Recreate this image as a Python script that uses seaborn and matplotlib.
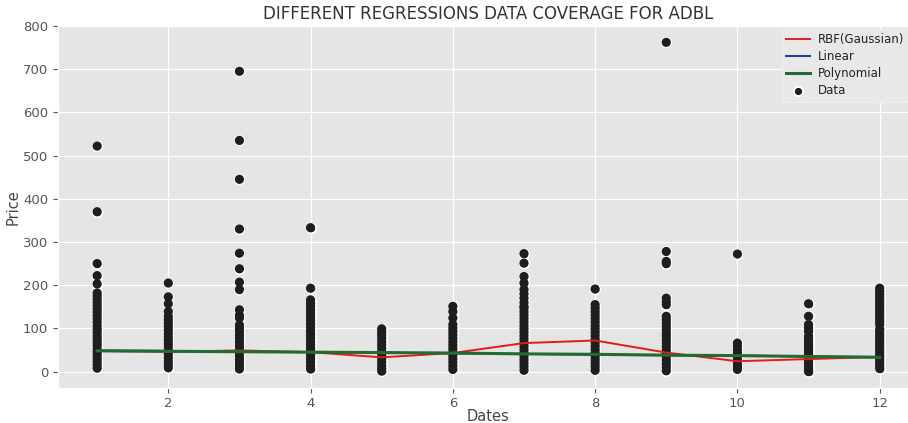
import matplotlib
matplotlib.use("Agg")
import matplotlib.pyplot as plt
import seaborn as sns
import pandas as pd

# ---- data ----
dates = [1, 2, 3, 4, 5, 6, 7, 8, 9, 10, 11, 12]
prices_d1 = [522, 370, 250, 222, 203, 182, 175, 168, 160, 152, 145, 138, 130, 122, 114, 105, 98, 90, 82, 75, 68, 60, 52, 45, 38, 30, 22, 15, 8]
prices_d2 = [205, 173, 157, 139, 128, 120, 112, 104, 96, 88, 80, 72, 64, 56, 48, 40, 32, 24, 16, 9]
prices_d3 = [695, 535, 445, 330, 274, 238, 207, 190, 143, 130, 124, 108, 100, 92, 84, 76, 68, 60, 52, 44, 36, 28, 20, 12, 6]
prices_d4 = [333, 193, 166, 158, 150, 142, 134, 126, 118, 110, 102, 94, 86, 78, 70, 62, 54, 46, 38, 30, 22, 14, 6]
prices_d5 = [99, 92, 85, 78, 70, 62, 54, 46, 38, 30, 22, 14, 7, 1]
prices_d6 = [151, 139, 124, 109, 101, 93, 85, 77, 69, 61, 53, 45, 37, 29, 21, 13, 5]
prices_d7 = [273, 251, 220, 205, 190, 180, 170, 160, 151, 147, 139, 131, 123, 115, 107, 99, 91, 83, 75, 67, 59, 51, 43, 35, 27, 19, 11, 3]
prices_d8 = [191, 155, 147, 139, 131, 123, 115, 107, 99, 91, 83, 75, 67, 59, 51, 43, 35, 27, 19, 11, 3]
prices_d9 = [762, 278, 255, 250, 170, 162, 155, 128, 120, 112, 104, 96, 88, 82, 74, 66, 58, 50, 42, 34, 26, 18, 10, 2]
prices_d10 = [272, 66, 58, 50, 42, 34, 26, 18, 11, 5]
prices_d11 = [157, 128, 109, 101, 93, 82, 75, 68, 61, 54, 47, 40, 33, 26, 19, 12, 5, 0]
prices_d12 = [193, 186, 179, 172, 165, 158, 151, 144, 137, 130, 123, 116, 109, 98, 91, 84, 77, 70, 63, 56, 49, 42, 35, 28, 21, 14, 7]

rbf_pred = [48, 46, 49, 45, 33, 43, 66, 72, 44, 24, 29, 34]
linear_pred = [49, 48, 46, 45, 44, 42, 41, 39, 38, 37, 35, 34]
poly_pred = [48, 47, 46, 45, 44, 43, 41, 40, 38, 37, 35, 33]

all_prices = [prices_d1, prices_d2, prices_d3, prices_d4, prices_d5, prices_d6,
              prices_d7, prices_d8, prices_d9, prices_d10, prices_d11, prices_d12]

rows = []
for d, vals in zip(dates, all_prices):
    for v in vals:
        rows.append({"Dates": d, "Price": v})
df = pd.DataFrame(rows)
lines = pd.DataFrame({"Dates": dates, "RBF": rbf_pred, "Linear": linear_pred, "Poly": poly_pred})

plt.style.use("ggplot")
plt.rcParams["font.family"] = ["DejaVu Sans"]

fig = plt.figure(figsize=(9.08, 4.23), dpi=100)
ax = fig.add_axes([0.0639, 0.0827, 0.948, 0.856])
ax.set_facecolor("#E5E5E5")

# white halo pass, then solid black pass on top
sns.scatterplot(data=df, x="Dates", y="Price", ax=ax, color="#1e1e1e", s=44,
                edgecolor="white", linewidth=1.4, label="Data", zorder=2)
sns.scatterplot(data=df, x="Dates", y="Price", ax=ax, color="#1e1e1e", s=44,
                edgecolor="none", linewidth=0, legend=False, zorder=2.1)
sns.lineplot(data=lines, x="Dates", y="RBF", ax=ax, color="#e41a1c", linewidth=1.4,
             label="RBF(Gaussian)", zorder=3)
sns.lineplot(data=lines, x="Dates", y="Linear", ax=ax, color="#2233aa", linewidth=1.4,
             label="Linear", zorder=3)
sns.lineplot(data=lines, x="Dates", y="Poly", ax=ax, color="#236b2f", linewidth=2.2,
             label="Polynomial", zorder=4)

ax.set_xlim(0.45, 12.55)
ax.set_ylim(-38, 800)
ax.set_xticks([2, 4, 6, 8, 10, 12])
ax.set_yticks(range(0, 801, 100))
ax.tick_params(labelsize=9.5, colors="#555555")
ax.tick_params(axis="x", pad=3)
ax.grid(True, color="white", linewidth=0.9)
ax.set_xlabel("Dates", fontsize=10.5, color="#444444", labelpad=-1)
ax.set_ylabel("Price", fontsize=10.5, color="#444444", labelpad=2)
ax.set_title("DIFFERENT REGRESSIONS DATA COVERAGE FOR ADBL", fontsize=12,
             color="#333333", pad=5)

h, l = ax.get_legend_handles_labels()
order = [l.index("RBF(Gaussian)"), l.index("Linear"), l.index("Polynomial"), l.index("Data")]
leg = ax.legend([h[i] for i in order], [l[i] for i in order], loc="upper left",
                bbox_to_anchor=(0.834, 1.008), fontsize=8.5, labelspacing=0.35,
                borderpad=0.35, facecolor="#E8E8E8", edgecolor="#f4f4f4",
                framealpha=1, handlelength=2.0, handletextpad=0.7)
for t in leg.get_texts():
    t.set_color("#222222")

fig.savefig("out.png", dpi=100)
